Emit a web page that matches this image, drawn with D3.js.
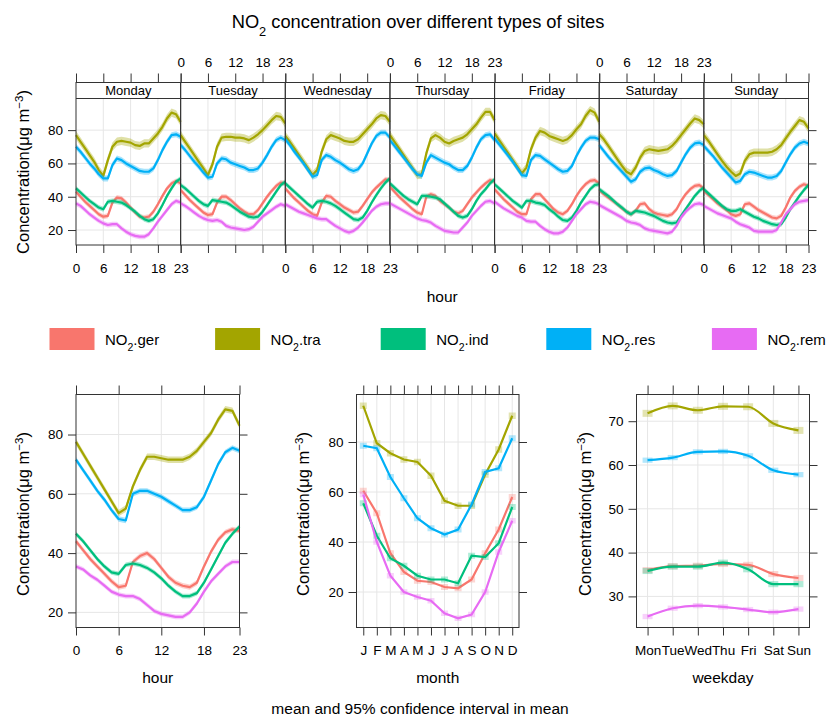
<!DOCTYPE html>
<html>
<head>
<meta charset="utf-8">
<script src="https://cdn.jsdelivr.net/npm/d3@7"></script>
<style>
  body { margin: 0; background: #fff; }
  svg { font-family: "Liberation Sans", Arial, sans-serif; }
</style>
</head>
<body>
<div id="chart"></div>
<script>
const seriesSuffix = [".ger", ".tra", ".ind", ".res", ".rem"];
const colors = ["#F8766D", "#A3A500", "#00BF7D", "#00B0F6", "#E76BF3"];
const dayNames = ["Monday", "Tuesday", "Wednesday", "Thursday", "Friday", "Saturday", "Sunday"];
const hours = d3.range(24);
const hourTicks = [0, 6, 12, 18, 23];
const monthLabels = ["J", "F", "M", "A", "M", "J", "J", "A", "S", "O", "N", "D"];
const weekdayLabels = ["Mon", "Tue", "Wed", "Thu", "Fri", "Sat", "Sun"];

// hourly means per weekday (Mon..Sun), 24 values each
const gerWeek = [
  [43, 40, 37, 34.5, 32, 29.5, 28, 28.5, 36.5, 39.5, 39, 36.5, 33.5, 30.5, 28, 27.5, 28, 31, 35.5, 40.5, 45, 48, 49.5, 48],
  [44, 41, 38, 35.5, 33, 30.5, 29, 29.5, 36.5, 40, 40, 38, 35.5, 33, 31, 29.5, 29.5, 32, 36, 40, 43.5, 46.5, 48.5, 48],
  [45, 42, 39, 36.5, 34, 31.5, 29.5, 28.5, 36.5, 40.5, 40, 37.5, 35.5, 33.5, 32, 30.5, 31, 34.5, 38.5, 42.5, 45.5, 48, 50.5, 50],
  [46, 43, 40, 37.5, 35, 32.5, 30.5, 29.5, 40, 41.5, 40.5, 37.5, 35.5, 33.5, 31, 30, 31.5, 35.5, 39.5, 42.5, 45.5, 48, 50, 49],
  [44.5, 41.5, 38.5, 36, 33.5, 31, 29.5, 29.5, 38.5, 41.5, 41.5, 38.5, 35.5, 32.5, 30.5, 29.5, 31.5, 35.5, 40.5, 44.5, 47.5, 49.5, 50, 48],
  [44, 41.5, 39.5, 37.5, 35.5, 33, 31, 29.5, 31.5, 35.5, 36, 32.5, 30.5, 29.5, 29, 28.5, 29.5, 32.5, 37.5, 41.5, 44.5, 46.5, 47, 45],
  [43.5, 41, 38.5, 36, 34, 32, 29.5, 28.5, 29.5, 35.5, 36, 34, 32, 30.5, 29, 27.5, 27, 28.5, 33.5, 39.5, 43.5, 46, 47.5, 46.5]
];
const traWeek = [
  [77, 73, 69, 65, 61, 56, 52.5, 62, 70, 73, 73.5, 73, 72.5, 71, 70.5, 72, 72, 75, 78, 82, 87, 90.5, 89.5, 85],
  [77, 73, 69, 65, 61, 57, 53, 59.5, 70, 75.5, 76, 76, 75.5, 75.5, 75, 74, 75.5, 77.5, 80, 83, 86, 88.5, 88, 84],
  [76.5, 73, 69, 65, 61, 57, 53, 56, 67, 74.5, 77, 76, 75, 73.5, 73, 73, 74.5, 77.5, 80.5, 83.5, 87, 89, 88.5, 85],
  [77, 73, 69, 65, 61, 57, 53, 53.5, 66, 75, 77, 75.5, 73, 72, 73.5, 74.5, 75.5, 77.5, 80.5, 83.5, 87.5, 91, 91, 86],
  [78, 74, 70, 66, 62, 58, 54, 57.5, 68.5, 75.5, 79.5, 78.5, 76.5, 75.5, 74.5, 73.5, 74.5, 77, 80.5, 83.5, 88.5, 92, 90.5, 85],
  [77.5, 74.5, 70.5, 66.5, 62.5, 58.5, 55, 53.5, 57.5, 63.5, 67.5, 68.5, 68, 67.5, 68, 68.5, 70.5, 73.5, 77, 80.5, 84, 87, 86, 83.5],
  [77, 73.5, 69.5, 65.5, 61.5, 58, 55, 52.5, 54, 61.5, 65.5, 66.5, 66.5, 66.5, 66.5, 67, 68.5, 71, 75, 79, 82.5, 86, 85, 81]
];
const indWeek = [
  [45, 42.5, 40, 37.5, 35.5, 33.5, 32.5, 37, 37.5, 37, 36.5, 35, 33, 31, 28.5, 26.5, 25.5, 26.5, 30, 35, 40.5, 45, 49, 51],
  [47, 45, 42.5, 40, 37.5, 35.5, 34.5, 38, 37.5, 37, 36.5, 35, 33, 31, 29.5, 28, 27.5, 28, 31, 35, 39, 43, 47, 49],
  [48, 45.5, 43, 40.5, 38, 35.5, 33.5, 37, 37.5, 37, 36, 34.5, 32.5, 30.5, 28.5, 26.5, 26, 27.5, 31.5, 36.5, 41, 45, 48.5, 51],
  [48, 45.5, 43, 40.5, 38.5, 37, 35.5, 40.5, 40.5, 40, 39.5, 38.5, 36, 33.5, 31, 28.5, 27.5, 28.5, 32.5, 37.5, 41.5, 44.5, 48, 50.5],
  [47.5, 45, 42.5, 40, 37.5, 35.5, 33.5, 37.5, 37.5, 36.5, 36, 35, 32.5, 30.5, 28, 26, 25.5, 27.5, 31.5, 36.5, 40.5, 44.5, 47, 47.5],
  [44.5, 42.5, 40.5, 38, 35.5, 33.5, 31, 29.5, 31.5, 31, 30.5, 29.5, 28.5, 27, 25.5, 24.5, 24, 24.5, 28.5, 32.5, 36.5, 40.5, 43.5, 45.5],
  [44.5, 42, 39.5, 37, 34.5, 32.5, 31.5, 31.5, 32.5, 31, 29.5, 28, 27, 25.5, 24.5, 23.5, 23, 23.5, 27.5, 32.5, 36.5, 40.5, 44, 47]
];
const resWeek = [
  [70, 67, 63.5, 60, 57, 53.5, 51, 51, 59, 63, 62, 60, 58.5, 57, 55.5, 55, 55, 57, 62, 68, 73, 77, 77.5, 76],
  [71, 68, 64.5, 61, 58, 54.5, 51.5, 52, 60, 63, 62.5, 60.5, 59.5, 58.5, 57.5, 56, 56, 57, 60.5, 65, 70, 74, 75.5, 74],
  [74.5, 71, 67, 63.5, 60, 56, 52, 53, 62, 65, 64, 62, 60.5, 58.5, 56.5, 55.5, 56.5, 60, 66, 72, 76.5, 78.5, 78.5, 75.5],
  [74, 70.5, 67, 63.5, 60, 56.5, 53.5, 52.5, 60.5, 65, 63.5, 62, 60.5, 59.5, 57.5, 56, 56, 58.5, 63.5, 69.5, 74.5, 77, 77.5, 74],
  [75, 71.5, 68, 64.5, 61, 57, 53, 52.5, 62, 65, 64.5, 62.5, 60.5, 58.5, 56.5, 55, 55.5, 58.5, 64.5, 69.5, 73.5, 75.5, 75.5, 74.5],
  [71, 67.5, 64, 61, 58, 55, 52, 49, 50.5, 55, 57, 57.5, 56, 55, 53.5, 52.5, 53, 55.5, 60.5, 65.5, 69.5, 72, 72.5, 71],
  [70.5, 67.5, 64.5, 61, 57.5, 54.5, 51.5, 48.5, 49.5, 53.5, 55, 54.5, 53.5, 52.5, 51.5, 51.5, 52.5, 55.5, 60.5, 65.5, 69.5, 72, 73, 72]
];
const remWeek = [
  [36, 34.5, 32, 29.5, 27.5, 25.5, 24, 23, 23.5, 23.5, 21, 19, 17.5, 16.5, 16, 16, 17.5, 21, 25, 28.5, 32, 35.5, 37.5, 36.5],
  [36, 34.5, 32.5, 30.5, 28.5, 27, 26, 25.5, 26, 25, 22.5, 21.5, 21, 20.5, 20, 20.5, 22, 25, 28, 30, 32, 34, 35.5, 34.5],
  [35.5, 34, 32.5, 31, 30, 29, 28, 27, 26.5, 26.5, 24.5, 22.5, 21, 19.5, 18.5, 19.5, 21.5, 24.5, 28, 31.5, 34, 35.5, 36, 36],
  [36, 34.5, 33, 31.5, 30, 28.5, 27, 26, 25.5, 24.5, 22.5, 21, 19.5, 19, 18.5, 18.5, 21.5, 24.5, 28.5, 31.5, 34.5, 37, 37.5, 36],
  [37, 35, 33, 31.5, 30, 28.5, 27.5, 25.5, 25, 25, 22.5, 20.5, 19, 18, 18, 19, 21.5, 25.5, 29.5, 32.5, 35.5, 37, 36.5, 35.5],
  [35, 33.5, 32, 30.5, 29, 27.5, 25.5, 24.5, 24, 23, 21, 20, 19.5, 19, 18.5, 18, 19, 22.5, 27.5, 31, 33.5, 35.5, 36, 35],
  [34.5, 33, 31.5, 30, 29, 28, 27, 25, 23.5, 22.5, 21.5, 19.5, 19, 19, 19, 19, 20, 24.5, 29.5, 32.5, 35.5, 37, 37.5, 38]
];
const ciWeek = [1.5, 2.5, 1.5, 1.8, 1.5];

// overall hour of day
const gerHour = [44, 41, 38, 35.5, 33, 30.5, 28.5, 29, 37, 39, 40, 38, 35, 32, 30, 29, 28.5, 30, 35.5, 40.5, 44.5, 47, 48, 47.5];
const traHour = [77.5, 73.5, 69.5, 65.5, 61.5, 57.5, 53.5, 55, 62.5, 68, 72.5, 72.5, 72, 71.5, 71.5, 71.5, 72.5, 74.5, 77.5, 80.5, 85, 88.5, 88, 83];
const indHour = [46.5, 44, 41, 38, 35.5, 33.5, 33, 36, 36.5, 36, 35, 33.5, 31.5, 29, 27, 25.5, 25.5, 26.5, 30, 34.5, 39, 43.5, 46.5, 49];
const resHour = [71.5, 68, 64.5, 61, 58, 54.5, 51.5, 51, 60, 61, 61, 60, 59, 57.5, 56, 54.5, 54.5, 55.5, 59, 64.5, 70, 74, 75.5, 74.5];
const remHour = [35.5, 34.5, 32.5, 31, 29, 27, 26, 25.5, 25.5, 24.5, 22.5, 20.5, 19.5, 19, 18.5, 18.5, 20, 23, 27, 30.5, 33, 35.5, 37, 37];
const ciHour = [0.9, 1.1, 0.8, 0.9, 0.8];

// month
const gerMonth = [60.5, 51.5, 35.5, 28, 24.5, 24, 22, 21.5, 25, 35.5, 45, 58];
const traMonth = [94.5, 79.5, 75.5, 73, 72, 66.5, 56.5, 54.5, 54.5, 67, 77, 90.5];
const indMonth = [55.5, 42.5, 33.5, 30.5, 26.5, 25, 25, 23.5, 34.5, 34, 39.5, 54];
const resMonth = [78.5, 77.5, 66, 57.5, 49.5, 45.5, 43, 45, 55, 68, 69.5, 81.5];
const remMonth = [59, 40, 26.5, 20, 18, 16.5, 11.5, 9.5, 11, 20, 36, 48.5];
const ciMonth = [1.2, 1.3, 1.2, 1.2, 1.1];

// weekday
const gerDay = [36, 36.9, 37, 37.4, 37.2, 35.1, 34.2];
const traDay = [71.8, 73.5, 72.5, 73.4, 73.3, 69.5, 67.9];
const indDay = [35.8, 36.8, 36.8, 37.7, 36.2, 32.8, 32.8];
const resDay = [61.1, 61.7, 63, 63.1, 62.1, 58.8, 57.8];
const remDay = [25.4, 27.3, 27.9, 27.6, 27.0, 26.4, 27.1];
const ciDay = [0.7, 0.8, 0.7, 0.6, 0.6];

const weekData = [gerWeek, traWeek, indWeek, resWeek, remWeek];
const hourData = [gerHour, traHour, indHour, resHour, remHour];
const monthData = [gerMonth, traMonth, indMonth, resMonth, remMonth];
const dayData = [gerDay, traDay, indDay, resDay, remDay];

const gridColor = "#e6e6e6";
const frameColor = "#333";

let svg = d3.select("#chart")
  .append("svg")
  .attr("width", 831)
  .attr("height", 719);

/* ------------------ helpers ------------------ */
function styleAxis(g) {
  g.attr("font-size", null).attr("font-family", null);
  g.select(".domain").remove();
  g.selectAll(".tick line").attr("stroke", frameColor);
  g.selectAll(".tick text").attr("font-size", 13.5).attr("fill", "#000");
}

function noText(sel, rest, size) {
  sel.append("tspan").text("NO");
  sel.append("tspan").attr("baseline-shift", "sub").attr("font-size", size * 0.7).text("2");
  sel.append("tspan").text(rest);
}

function yLabel(x, y) {
  let t = svg.append("text")
    .attr("transform", `translate(${x},${y}) rotate(-90)`)
    .attr("text-anchor", "middle")
    .attr("font-size", 16.5);
  t.append("tspan").text("Concentration(\u03bcg m");
  t.append("tspan").attr("baseline-shift", "super").attr("font-size", 11.5).text("\u22123");
  t.append("tspan").text(")");
}

function band(g, x, y, xs, vals, ci, color, lw) {
  let area = d3.area()
    .x((v, j) => x(xs[j]))
    .y0(v => y(v - ci))
    .y1(v => y(v + ci));
  let line = d3.line()
    .x((v, j) => x(xs[j]))
    .y(v => y(v));
  g.append("path").datum(vals).attr("d", area)
    .attr("fill", color).attr("fill-opacity", 0.35);
  g.append("path").datum(vals).attr("d", line)
    .attr("fill", "none").attr("stroke", color)
    .attr("stroke-width", lw).attr("stroke-linejoin", "round");
}

function grid(g, x, y, xTicks, yTicks, x0, x1, y0, y1) {
  g.selectAll(".vg").data(xTicks).enter().append("line")
    .attr("x1", d => x(d)).attr("x2", d => x(d))
    .attr("y1", y0).attr("y2", y1)
    .attr("stroke", gridColor);
  g.selectAll(".hg").data(yTicks).enter().append("line")
    .attr("x1", x0).attr("x2", x1)
    .attr("y1", d => y(d)).attr("y2", d => y(d))
    .attr("stroke", gridColor);
}

/* ------------------ title ------------------ */
svg.append("text")
  .attr("x", 418).attr("y", 28)
  .attr("text-anchor", "middle")
  .attr("font-size", 18.3)
  .call(t => noText(t, " concentration over different types of sites", 18.3));

/* ------------------ top: hour x weekday ------------------ */
const topBox = { left: 76, right: 808.5, strip: 82.5, top: 98.5, bottom: 245 };
const dayW = (topBox.right - topBox.left) / 7;
let yWeek = d3.scaleLinear().domain([11, 99]).range([topBox.bottom, topBox.top]);

dayNames.forEach((name, d) => {
  let x = d3.scaleLinear().domain([0, 23])
    .range([topBox.left + d * dayW, topBox.left + (d + 1) * dayW]);
  let g = svg.append("g");

  grid(g, x, yWeek, [6, 12, 18], [20, 40, 60, 80], x(0), x(23), topBox.top, topBox.bottom);

  weekData.forEach((s, i) => band(g, x, yWeek, hours, s[d], ciWeek[i], colors[i], 2.2));

  g.append("rect")
    .attr("x", x(0)).attr("y", topBox.strip)
    .attr("width", dayW).attr("height", topBox.bottom - topBox.strip)
    .attr("fill", "none").attr("stroke", frameColor);
  g.append("line")
    .attr("x1", x(0)).attr("x2", x(23))
    .attr("y1", topBox.top).attr("y2", topBox.top)
    .attr("stroke", frameColor);
  g.append("text")
    .attr("x", (x(0) + x(23)) / 2).attr("y", 95)
    .attr("text-anchor", "middle").attr("font-size", 13)
    .text(name);

  let axB = d3.axisBottom(x).tickValues(hourTicks).tickSize(8).tickPadding(10);
  if (d % 2 == 1) axB.tickFormat("");
  g.append("g").attr("transform", `translate(0,${topBox.bottom})`).call(axB).call(styleAxis);

  let axT = d3.axisTop(x).tickValues(hourTicks).tickSize(9).tickPadding(7);
  if (d % 2 == 0) axT.tickFormat("");
  g.append("g").attr("transform", `translate(0,${topBox.strip})`).call(axT).call(styleAxis);
});

svg.append("g").attr("transform", `translate(${topBox.left},0)`)
  .call(d3.axisLeft(yWeek).tickValues([20, 40, 60, 80]).tickSize(8).tickPadding(5))
  .call(styleAxis);
svg.append("g").attr("transform", `translate(${topBox.right},0)`)
  .call(d3.axisRight(yWeek).tickValues([20, 40, 60, 80]).tickSize(8).tickFormat(""))
  .call(styleAxis);

yLabel(29, 172);
svg.append("text").attr("x", (topBox.left + topBox.right) / 2).attr("y", 302)
  .attr("text-anchor", "middle").attr("font-size", 15.5).text("hour");

/* ------------------ legend ------------------ */
seriesSuffix.forEach((s, i) => {
  let lx = 49.5 + i * 165.6;
  svg.append("rect").attr("x", lx).attr("y", 328).attr("width", 45).attr("height", 22)
    .attr("fill", colors[i]);
  svg.append("text").attr("x", lx + 55.5).attr("y", 345).attr("font-size", 15)
    .call(t => noText(t, s, 15));
});

/* ------------------ bottom panels ------------------ */
const botTop = 394.5, botBottom = 627.5;

function framePanel(g, x, y, left, right, xTicks, yTicks, xFmt) {
  g.append("rect")
    .attr("x", left).attr("y", botTop)
    .attr("width", right - left).attr("height", botBottom - botTop)
    .attr("fill", "none").attr("stroke", frameColor);
  g.append("g").attr("transform", `translate(0,${botBottom})`)
    .call(d3.axisBottom(x).tickValues(xTicks).tickSize(8).tickPadding(10).tickFormat(xFmt))
    .call(styleAxis);
  g.append("g").attr("transform", `translate(0,${botTop})`)
    .call(d3.axisTop(x).tickValues(xTicks).tickSize(9).tickFormat(""))
    .call(styleAxis);
  g.append("g").attr("transform", `translate(${left},0)`)
    .call(d3.axisLeft(y).tickValues(yTicks).tickSize(8).tickPadding(5))
    .call(styleAxis);
  g.append("g").attr("transform", `translate(${right},0)`)
    .call(d3.axisRight(y).tickValues(yTicks).tickSize(8).tickFormat(""))
    .call(styleAxis);
}

// hour
{
  let left = 76, right = 239.5;
  let x = d3.scaleLinear().domain([0, 23]).range([left, right]);
  let y = d3.scaleLinear().domain([14.9, 93.5]).range([botBottom, botTop]);
  let g = svg.append("g");
  grid(g, x, y, [6, 12, 18], [20, 40, 60, 80], left, right, botTop, botBottom);
  hourData.forEach((s, i) => band(g, x, y, hours, s, ciHour[i], colors[i], 2.2));
  framePanel(g, x, y, left, right, hourTicks, [20, 40, 60, 80], d => d);
  yLabel(29, 514);
  svg.append("text").attr("x", (left + right) / 2).attr("y", 683)
    .attr("text-anchor", "middle").attr("font-size", 15.5).text("hour");
}

// month
{
  let left = 356.5, right = 519;
  let months = d3.range(1, 13);
  let x = d3.scaleLinear().domain([0.5, 12.5]).range([left, right]);
  let y = d3.scaleLinear().domain([5.8, 99]).range([botBottom, botTop]);
  let g = svg.append("g");
  grid(g, x, y, months, [20, 40, 60, 80], left, right, botTop, botBottom);
  monthData.forEach((s, i) => {
    g.selectAll(null).data(s).enter().append("rect")
      .attr("x", (v, j) => x(months[j]) - 3.5)
      .attr("y", v => y(v + ciMonth[i]))
      .attr("width", 7)
      .attr("height", v => y(v - ciMonth[i]) - y(v + ciMonth[i]))
      .attr("fill", colors[i]).attr("fill-opacity", 0.3);
    g.append("path").datum(s)
      .attr("d", d3.line().x((v, j) => x(months[j])).y(v => y(v)))
      .attr("fill", "none").attr("stroke", colors[i]).attr("stroke-width", 2.2);
  });
  framePanel(g, x, y, left, right, months, [20, 40, 60, 80], d => monthLabels[d - 1]);
  yLabel(309, 514);
  svg.append("text").attr("x", (left + right) / 2).attr("y", 683)
    .attr("text-anchor", "middle").attr("font-size", 15.5).text("month");
}

// weekday
{
  let left = 636.5, right = 809.5;
  let wd = d3.range(1, 8);
  let x = d3.scaleLinear().domain([0.56, 7.44]).range([left, right]);
  let y = d3.scaleLinear().domain([22.9, 76.1]).range([botBottom, botTop]);
  let g = svg.append("g");
  grid(g, x, y, wd, [30, 40, 50, 60, 70], left, right, botTop, botBottom);
  dayData.forEach((s, i) => {
    g.selectAll(null).data(s).enter().append("rect")
      .attr("x", (v, j) => x(wd[j]) - 5)
      .attr("y", v => y(v + ciDay[i]))
      .attr("width", 10)
      .attr("height", v => y(v - ciDay[i]) - y(v + ciDay[i]))
      .attr("fill", colors[i]).attr("fill-opacity", 0.3);
    g.append("path").datum(s)
      .attr("d", d3.line().x((v, j) => x(wd[j])).y(v => y(v)).curve(d3.curveMonotoneX))
      .attr("fill", "none").attr("stroke", colors[i]).attr("stroke-width", 2.2);
  });
  framePanel(g, x, y, left, right, wd, [30, 40, 50, 60, 70], d => weekdayLabels[d - 1]);
  yLabel(591, 514);
  svg.append("text").attr("x", (left + right) / 2).attr("y", 683)
    .attr("text-anchor", "middle").attr("font-size", 15.5).text("weekday");
}

/* ------------------ footer ------------------ */
svg.append("text")
  .attr("x", 420).attr("y", 714)
  .attr("text-anchor", "middle").attr("font-size", 15.5)
  .text("mean and 95% confidence interval in mean");
</script>
</body>
</html>
